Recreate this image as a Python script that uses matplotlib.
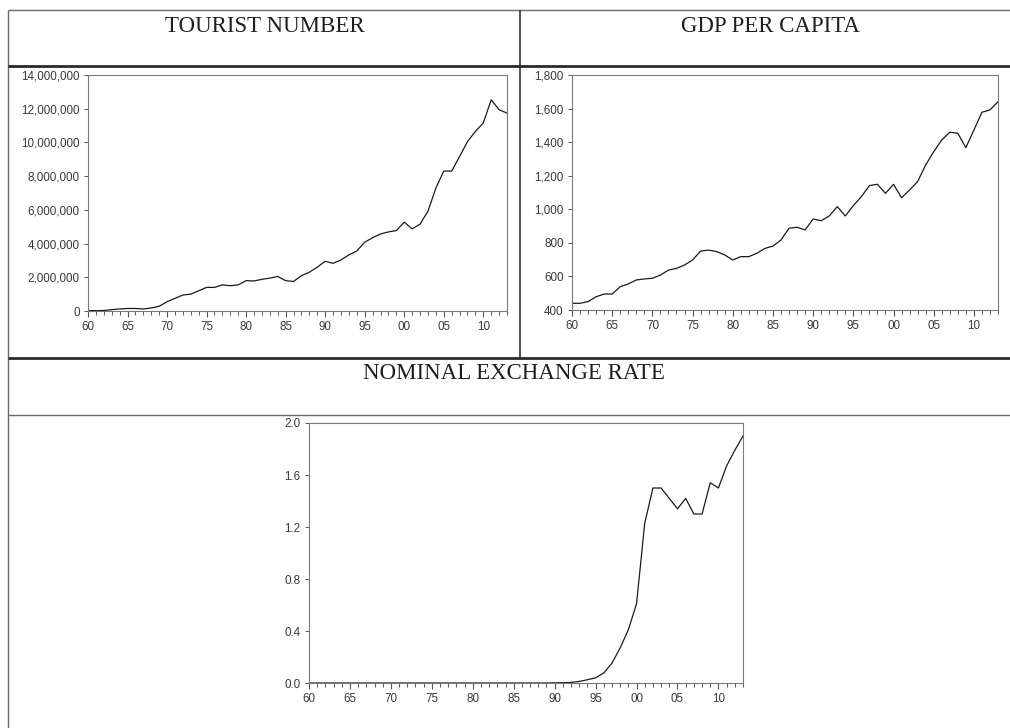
import matplotlib
matplotlib.use("Agg")
import matplotlib.pyplot as plt
from matplotlib.lines import Line2D
from matplotlib.ticker import FixedLocator, MultipleLocator, FuncFormatter

# ---- data -------------------------------------------------------------
years = list(range(1960, 2014))

tourists_mn = [0.02, 0.02, 0.03, 0.08, 0.12, 0.15, 0.15, 0.12, 0.18, 0.28,
               0.55, 0.75, 0.95, 1.00, 1.20, 1.40, 1.40, 1.55, 1.50, 1.55,
               1.80, 1.78, 1.88, 1.95, 2.05, 1.80, 1.75, 2.10, 2.30, 2.60,
               2.95, 2.83, 3.03, 3.33, 3.56, 4.08, 4.35, 4.57, 4.69, 4.77,
               5.27, 4.87, 5.15, 5.92, 7.29, 8.30, 8.30, 9.16, 10.05, 10.65,
               11.15, 12.53, 11.94, 11.74]
tourists = [v * 1_000_000 for v in tourists_mn]

gdp_pc = [440, 440, 450, 479, 495, 495, 539, 555, 579, 585,
          589, 608, 638, 648, 668, 698, 751, 757, 748, 728,
          698, 718, 718, 738, 767, 781, 817, 887, 893, 877,
          942, 932, 960, 1016, 960, 1022, 1075, 1141, 1149, 1095,
          1149, 1069, 1115, 1165, 1264, 1343, 1413, 1459, 1453, 1367,
          1472, 1578, 1592, 1641]

exch_rate = [0.0, 0.0, 0.0, 0.0, 0.0, 0.0, 0.0, 0.0, 0.0, 0.0,
             0.0, 0.0, 0.0, 0.0, 0.0, 0.0, 0.0, 0.0, 0.0, 0.0,
             0.0, 0.0, 0.0, 0.0, 0.0, 0.0, 0.0, 0.0, 0.0, 0.0,
             0.001, 0.002, 0.004, 0.012, 0.025, 0.04, 0.077, 0.153, 0.27, 0.41,
             0.61, 1.23, 1.50, 1.50, 1.42, 1.34, 1.42, 1.30, 1.30, 1.54,
             1.50, 1.67, 1.79, 1.90]

year_ticks = [1960, 1965, 1970, 1975, 1980, 1985, 1990, 1995, 2000, 2005, 2010]
year_labels = ["60", "65", "70", "75", "80", "85", "90", "95", "00", "05", "10"]

titles = ["TOURIST NUMBER", "GDP PER CAPITA", "NOMINAL EXCHANGE RATE"]

# ---- figure -----------------------------------------------------------
W, H = 1010, 728
fig = plt.figure(figsize=(W / 100, H / 100), dpi=100)
fig.patch.set_facecolor("white")


def ax_rect(left, top, right, bottom):
    return [left / W, 1 - bottom / H, (right - left) / W, (bottom - top) / H]


def fig_line(x0, y0, x1, y1, lw, color):
    fig.add_artist(Line2D([x0 / W, x1 / W], [1 - y0 / H, 1 - y1 / H],
                          transform=fig.transFigure, lw=lw, color=color,
                          solid_capstyle="butt"))


# table grid
fig_line(8, 10, 1010, 10, 1.0, "#6a6a6a")
fig_line(8, 10, 8, 728, 1.0, "#6a6a6a")
fig_line(520, 10, 520, 358, 1.2, "#333333")
fig_line(8, 66, 1010, 66, 2.0, "#2a2a2a")
fig_line(8, 358, 1010, 358, 2.0, "#2a2a2a")
fig_line(8, 415, 1010, 415, 1.0, "#6a6a6a")

title_kw = dict(family="Liberation Serif", fontsize=16.5, color="#1e1e1e",
                ha="center", va="center")
fig.text(265 / W, 1 - 27 / H, titles[0], **title_kw)
fig.text(770 / W, 1 - 27 / H, titles[1], **title_kw)
fig.text(514 / W, 1 - 374 / H, titles[2], **title_kw)

tick_font = dict(family="Liberation Sans", size=8.4, color="#3a3a3a")


def style(ax, ymin, ymax, ystep, fmt):
    ax.plot(years, ax._series, color="#1a1a1a", lw=0.9)
    ax.set_xlim(1960, 2013)
    ax.set_ylim(ymin, ymax)
    ax.xaxis.set_major_locator(FixedLocator(year_ticks))
    ax.set_xticklabels(year_labels)
    ax.xaxis.set_minor_locator(MultipleLocator(1))
    ax.yaxis.set_major_locator(MultipleLocator(ystep))
    ax.yaxis.set_major_formatter(FuncFormatter(fmt))
    for sp in ax.spines.values():
        sp.set_color("#7a7a7a")
        sp.set_linewidth(0.8)
    ax.tick_params(axis="x", which="major", direction="out", length=4,
                   width=0.8, color="#555555", pad=3)
    ax.tick_params(axis="x", which="minor", direction="out", length=3,
                   width=0.7, color="#555555")
    ax.tick_params(axis="y", which="major", direction="out", length=3,
                   width=0.7, color="#555555", pad=3)
    for lab in ax.get_xticklabels() + ax.get_yticklabels():
        lab.set_fontfamily(tick_font["family"])
        lab.set_fontsize(tick_font["size"])
        lab.set_color(tick_font["color"])


ax1 = fig.add_axes(ax_rect(88, 75, 507, 311))
ax1._series = tourists
style(ax1, 0, 14_000_000, 2_000_000, lambda v, p: f"{int(round(v)):,}")

ax2 = fig.add_axes(ax_rect(572, 75, 998, 310))
ax2._series = gdp_pc
style(ax2, 400, 1800, 200, lambda v, p: f"{int(round(v)):,}")

ax3 = fig.add_axes(ax_rect(309, 423, 743, 683))
ax3._series = exch_rate
style(ax3, 0.0, 2.0, 0.4, lambda v, p: f"{v:.1f}")

fig.savefig("out.png", dpi=100, facecolor="white")
